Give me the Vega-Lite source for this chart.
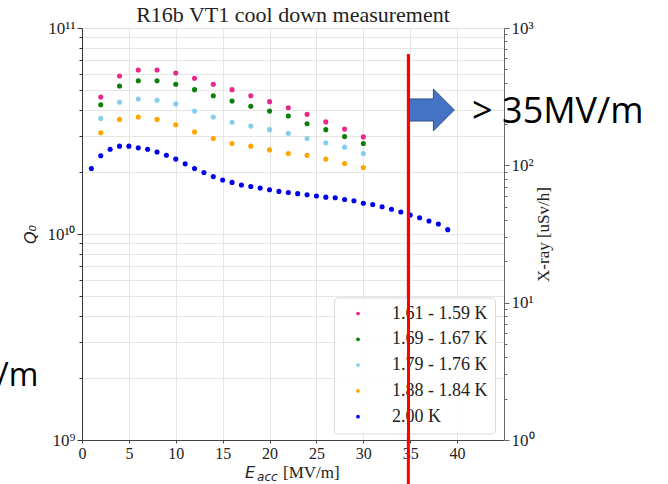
{
  "$schema": "https://vega.github.io/schema/vega-lite/v6.json",
  "width": 422,
  "height": 412,
  "autosize": "none",
  "padding": {"left": 82, "top": 28, "right": 164, "bottom": 44},
  "background": "white",
  "title": {"text": "R16b VT1 cool down measurement", "font": "Liberation Serif", "fontSize": 22, "fontWeight": "normal", "color": "#222", "offset": -8, "anchor": "middle", "frame": "group"},
  "config": {
    "view": {"stroke": null},
    "axis": {"labelFont": "Liberation Serif", "titleFont": "Liberation Serif", "labelColor": "#222", "titleColor": "#222", "domainColor": "#444", "tickColor": "#444", "gridColor": "#e6e6e6", "labelFlush": false, "labelOverlap": false}
  },
  "resolve": {"axis": {"x": "independent", "y": "independent"}},
  "layer": [
    {
      "data": {"values": [
        {"E": 2, "Q": 4.62e10, "T": "1.61 - 1.59 K"},
        {"E": 4, "Q": 5.85e10, "T": "1.61 - 1.59 K"},
        {"E": 6, "Q": 6.25e10, "T": "1.61 - 1.59 K"},
        {"E": 8, "Q": 6.25e10, "T": "1.61 - 1.59 K"},
        {"E": 10, "Q": 6.05e10, "T": "1.61 - 1.59 K"},
        {"E": 12, "Q": 5.70e10, "T": "1.61 - 1.59 K"},
        {"E": 14, "Q": 5.33e10, "T": "1.61 - 1.59 K"},
        {"E": 16, "Q": 5.02e10, "T": "1.61 - 1.59 K"},
        {"E": 18, "Q": 4.69e10, "T": "1.61 - 1.59 K"},
        {"E": 20, "Q": 4.39e10, "T": "1.61 - 1.59 K"},
        {"E": 22, "Q": 4.10e10, "T": "1.61 - 1.59 K"},
        {"E": 24, "Q": 3.81e10, "T": "1.61 - 1.59 K"},
        {"E": 26, "Q": 3.50e10, "T": "1.61 - 1.59 K"},
        {"E": 28, "Q": 3.23e10, "T": "1.61 - 1.59 K"},
        {"E": 30, "Q": 2.96e10, "T": "1.61 - 1.59 K"},
        {"E": 2, "Q": 4.24e10, "T": "1.69 - 1.67 K"},
        {"E": 4, "Q": 5.23e10, "T": "1.69 - 1.67 K"},
        {"E": 6, "Q": 5.55e10, "T": "1.69 - 1.67 K"},
        {"E": 8, "Q": 5.55e10, "T": "1.69 - 1.67 K"},
        {"E": 10, "Q": 5.33e10, "T": "1.69 - 1.67 K"},
        {"E": 12, "Q": 5.02e10, "T": "1.69 - 1.67 K"},
        {"E": 14, "Q": 4.69e10, "T": "1.69 - 1.67 K"},
        {"E": 16, "Q": 4.42e10, "T": "1.69 - 1.67 K"},
        {"E": 18, "Q": 4.17e10, "T": "1.69 - 1.67 K"},
        {"E": 20, "Q": 3.95e10, "T": "1.69 - 1.67 K"},
        {"E": 22, "Q": 3.74e10, "T": "1.69 - 1.67 K"},
        {"E": 24, "Q": 3.43e10, "T": "1.69 - 1.67 K"},
        {"E": 26, "Q": 3.21e10, "T": "1.69 - 1.67 K"},
        {"E": 28, "Q": 2.97e10, "T": "1.69 - 1.67 K"},
        {"E": 30, "Q": 2.75e10, "T": "1.69 - 1.67 K"},
        {"E": 2, "Q": 3.64e10, "T": "1.79 - 1.76 K"},
        {"E": 4, "Q": 4.36e10, "T": "1.79 - 1.76 K"},
        {"E": 6, "Q": 4.52e10, "T": "1.79 - 1.76 K"},
        {"E": 8, "Q": 4.46e10, "T": "1.79 - 1.76 K"},
        {"E": 10, "Q": 4.28e10, "T": "1.79 - 1.76 K"},
        {"E": 12, "Q": 3.95e10, "T": "1.79 - 1.76 K"},
        {"E": 14, "Q": 3.70e10, "T": "1.79 - 1.76 K"},
        {"E": 16, "Q": 3.49e10, "T": "1.79 - 1.76 K"},
        {"E": 18, "Q": 3.34e10, "T": "1.79 - 1.76 K"},
        {"E": 20, "Q": 3.21e10, "T": "1.79 - 1.76 K"},
        {"E": 22, "Q": 3.08e10, "T": "1.79 - 1.76 K"},
        {"E": 24, "Q": 2.91e10, "T": "1.79 - 1.76 K"},
        {"E": 26, "Q": 2.77e10, "T": "1.79 - 1.76 K"},
        {"E": 28, "Q": 2.64e10, "T": "1.79 - 1.76 K"},
        {"E": 30, "Q": 2.46e10, "T": "1.79 - 1.76 K"},
        {"E": 2, "Q": 3.10e10, "T": "1.88 - 1.84 K"},
        {"E": 4, "Q": 3.60e10, "T": "1.88 - 1.84 K"},
        {"E": 6, "Q": 3.70e10, "T": "1.88 - 1.84 K"},
        {"E": 8, "Q": 3.60e10, "T": "1.88 - 1.84 K"},
        {"E": 10, "Q": 3.39e10, "T": "1.88 - 1.84 K"},
        {"E": 12, "Q": 3.13e10, "T": "1.88 - 1.84 K"},
        {"E": 14, "Q": 2.91e10, "T": "1.88 - 1.84 K"},
        {"E": 16, "Q": 2.75e10, "T": "1.88 - 1.84 K"},
        {"E": 18, "Q": 2.67e10, "T": "1.88 - 1.84 K"},
        {"E": 20, "Q": 2.56e10, "T": "1.88 - 1.84 K"},
        {"E": 22, "Q": 2.46e10, "T": "1.88 - 1.84 K"},
        {"E": 24, "Q": 2.41e10, "T": "1.88 - 1.84 K"},
        {"E": 26, "Q": 2.31e10, "T": "1.88 - 1.84 K"},
        {"E": 28, "Q": 2.20e10, "T": "1.88 - 1.84 K"},
        {"E": 30, "Q": 2.10e10, "T": "1.88 - 1.84 K"},
        {"E": 1, "Q": 2.08e10, "T": "2.00 K"},
        {"E": 2, "Q": 2.40e10, "T": "2.00 K"},
        {"E": 3, "Q": 2.58e10, "T": "2.00 K"},
        {"E": 4, "Q": 2.67e10, "T": "2.00 K"},
        {"E": 5, "Q": 2.67e10, "T": "2.00 K"},
        {"E": 6, "Q": 2.62e10, "T": "2.00 K"},
        {"E": 7, "Q": 2.58e10, "T": "2.00 K"},
        {"E": 8, "Q": 2.50e10, "T": "2.00 K"},
        {"E": 9, "Q": 2.41e10, "T": "2.00 K"},
        {"E": 10, "Q": 2.31e10, "T": "2.00 K"},
        {"E": 11, "Q": 2.19e10, "T": "2.00 K"},
        {"E": 12, "Q": 2.08e10, "T": "2.00 K"},
        {"E": 13, "Q": 1.99e10, "T": "2.00 K"},
        {"E": 14, "Q": 1.90e10, "T": "2.00 K"},
        {"E": 15, "Q": 1.83e10, "T": "2.00 K"},
        {"E": 16, "Q": 1.78e10, "T": "2.00 K"},
        {"E": 17, "Q": 1.73e10, "T": "2.00 K"},
        {"E": 18, "Q": 1.70e10, "T": "2.00 K"},
        {"E": 19, "Q": 1.67e10, "T": "2.00 K"},
        {"E": 20, "Q": 1.64e10, "T": "2.00 K"},
        {"E": 21, "Q": 1.61e10, "T": "2.00 K"},
        {"E": 22, "Q": 1.59e10, "T": "2.00 K"},
        {"E": 23, "Q": 1.57e10, "T": "2.00 K"},
        {"E": 24, "Q": 1.55e10, "T": "2.00 K"},
        {"E": 25, "Q": 1.53e10, "T": "2.00 K"},
        {"E": 26, "Q": 1.51e10, "T": "2.00 K"},
        {"E": 27, "Q": 1.50e10, "T": "2.00 K"},
        {"E": 28, "Q": 1.47e10, "T": "2.00 K"},
        {"E": 29, "Q": 1.45e10, "T": "2.00 K"},
        {"E": 30, "Q": 1.41e10, "T": "2.00 K"},
        {"E": 31, "Q": 1.39e10, "T": "2.00 K"},
        {"E": 32, "Q": 1.357e10, "T": "2.00 K"},
        {"E": 33, "Q": 1.318e10, "T": "2.00 K"},
        {"E": 34, "Q": 1.279e10, "T": "2.00 K"},
        {"E": 35, "Q": 1.237e10, "T": "2.00 K"},
        {"E": 36, "Q": 1.20e10, "T": "2.00 K"},
        {"E": 37, "Q": 1.157e10, "T": "2.00 K"},
        {"E": 38, "Q": 1.119e10, "T": "2.00 K"},
        {"E": 39, "Q": 1.05e10, "T": "2.00 K"}
      ]},
      "mark": {"type": "circle", "size": 26, "opacity": 1},
      "encoding": {
        "x": {"field": "E", "type": "quantitative", "scale": {"domain": [0, 45], "nice": false, "zero": false},
          "axis": {"orient": "bottom", "values": [0, 5, 10, 15, 20, 25, 30, 35, 40], "title": null, "grid": true, "labelFontSize": 16, "tickSize": 3, "labelPadding": 2, "domainColor": "#444"}},
        "y": {"field": "Q", "type": "quantitative", "scale": {"type": "log", "domain": [1e9, 1e11], "nice": false}, "axis": null},
        "color": {"field": "T", "type": "nominal",
          "scale": {"domain": ["1.61 - 1.59 K", "1.69 - 1.67 K", "1.79 - 1.76 K", "1.88 - 1.84 K", "2.00 K"], "range": ["#e8288a", "#0a7f0a", "#87ceeb", "#ffa500", "#0000ee"]},
          "legend": {"title": null, "orient": "none", "legendX": 252, "legendY": 269.5, "padding": 7, "labelFont": "Liberation Serif", "labelFontSize": 18, "labelColor": "#222", "symbolType": "circle", "symbolSize": 14, "symbolOffset": 8, "labelOffset": 25, "rowPadding": 7.8, "strokeColor": "#d9d9d9", "fillColor": "rgba(255,255,255,0.85)", "cornerRadius": 4, "symbolStrokeWidth": 0, "zindex": 0}}
      }
    },
    {
      "data": {"values": [{"E": 34.8, "Qtop": 7.48e10, "Qbottom": 5e8}]},
      "mark": {"type": "rule", "color": "#ff0000", "strokeWidth": 3},
      "encoding": {
        "x": {"field": "E", "type": "quantitative", "scale": {"domain": [0, 45], "nice": false, "zero": false},
          "axis": {"orient": "top", "values": [34.8], "labels": false, "ticks": false, "domain": false, "title": null, "grid": true, "gridColor": "#ff0000", "gridWidth": 3, "gridDash": [385, 1000], "zindex": 1, "minExtent": 0, "maxExtent": 0, "offset": 0}},
        "y": {"field": "Qtop", "type": "quantitative", "scale": {"type": "log", "domain": [1e9, 1e11], "nice": false}, "axis": null},
        "y2": {"field": "Qbottom"}
      }
    },
    {
      "data": {"values": [{"E": 37.25, "Q": 4.0e10}]},
      "mark": {"type": "point", "shape": "M-1,-0.48L0.09,-0.48L0.09,-0.91L1,0L0.09,0.91L0.09,0.48L-1,0.48Z", "size": 2116, "filled": true, "fill": "#4472C4", "stroke": "#2F528F", "strokeWidth": 1, "opacity": 1},
      "encoding": {
        "x": {"field": "E", "type": "quantitative", "scale": {"domain": [0, 45], "nice": false, "zero": false}, "axis": null},
        "y": {"field": "Q", "type": "quantitative", "scale": {"type": "log", "domain": [1e9, 1e11], "nice": false}, "axis": null}
      }
    },
    {
      "data": {"values": [{"E": 41.6, "Q": 3.46e10, "label": "> 35MV/m"}]},
      "mark": {"type": "text", "align": "left", "baseline": "alphabetic", "font": "Open Sans", "fontSize": 36, "color": "#000"},
      "encoding": {
        "x": {"field": "E", "type": "quantitative", "scale": {"domain": [0, 45], "nice": false, "zero": false}, "axis": null},
        "y": {"field": "Q", "type": "quantitative", "scale": {"type": "log", "domain": [1e9, 1e11], "nice": false}, "axis": null},
        "text": {"field": "label"}
      }
    },
    {
      "data": {"values": [{"E": -4.66, "Q": 1.834e9, "label": "< 35MV/m"}]},
      "mark": {"type": "text", "align": "right", "baseline": "alphabetic", "font": "Open Sans", "fontSize": 32, "color": "#000"},
      "encoding": {
        "x": {"field": "E", "type": "quantitative", "scale": {"domain": [0, 45], "nice": false, "zero": false}, "axis": null},
        "y": {"field": "Q", "type": "quantitative", "scale": {"type": "log", "domain": [1e9, 1e11], "nice": false}, "axis": null},
        "text": {"field": "label"}
      }
    },
    {
      "data": {"values": [{"E": 17.39, "Q": 6.54e8, "label": "E"}]},
      "mark": {"type": "text", "align": "left", "baseline": "alphabetic", "font": "DejaVu Sans", "fontStyle": "italic", "fontSize": 16, "color": "#222"},
      "encoding": {
        "x": {"field": "E", "type": "quantitative", "scale": {"domain": [0, 45], "nice": false, "zero": false}, "axis": null},
        "y": {"field": "Q", "type": "quantitative", "scale": {"type": "log", "domain": [1e9, 1e11], "nice": false},
          "axis": {"orient": "right",
            "values": [1e9, 1.5874e9, 2.0801e9, 2.5198e9, 2.924e9, 3.3019e9, 3.6593e9, 4e9, 4.3267e9, 4.6416e9, 7.3681e9, 9.6549e9, 1.1696e10, 1.3572e10, 1.5326e10, 1.6985e10, 1.8566e10, 2.0083e10, 2.1544e10, 3.4199e10, 4.4814e10, 5.4287e10, 6.2995e10, 7.1136e10, 7.8836e10, 8.6177e10, 9.3215e10, 1e11],
            "labelExpr": "abs(1.5*(log(datum.value)/LN10 - 9) - round(1.5*(log(datum.value)/LN10 - 9))) > 0.01 ? '' : round(1.5*(log(datum.value)/LN10 - 9)) == 0 ? '10⁰' : round(1.5*(log(datum.value)/LN10 - 9)) == 1 ? '10¹' : round(1.5*(log(datum.value)/LN10 - 9)) == 2 ? '10²' : '10³'",
            "tickSize": {"condition": {"test": "abs(1.5*(log(datum.value)/LN10 - 9) - round(1.5*(log(datum.value)/LN10 - 9))) < 0.01", "value": 5}, "value": 3},
            "title": "X-ray [uSv/h]", "titleAngle": 270, "titleFontSize": 17, "titleFontWeight": "normal", "titlePadding": 18,
            "labelFontSize": 17, "labelPadding": 2, "grid": false, "domainColor": "#666", "tickColor": "#666"}},
        "text": {"field": "label"}
      }
    },
    {
      "data": {"values": [{"E": 18.67, "Q": 6.3e8, "label": "acc"}]},
      "mark": {"type": "text", "align": "left", "baseline": "alphabetic", "font": "DejaVu Sans", "fontStyle": "italic", "fontSize": 12, "color": "#222"},
      "encoding": {
        "x": {"field": "E", "type": "quantitative", "scale": {"domain": [0, 45], "nice": false, "zero": false}, "axis": null},
        "y": {"field": "Q", "type": "quantitative", "scale": {"type": "log", "domain": [1e9, 1e11], "nice": false}, "axis": null},
        "text": {"field": "label"}
      }
    },
    {
      "data": {"values": [{"E": 21.44, "Q": 6.54e8, "label": "[MV/m]"}]},
      "mark": {"type": "text", "align": "left", "baseline": "alphabetic", "font": "Liberation Serif", "fontSize": 17, "color": "#222"},
      "encoding": {
        "x": {"field": "E", "type": "quantitative", "scale": {"domain": [0, 45], "nice": false, "zero": false}, "axis": null},
        "y": {"field": "Q", "type": "quantitative", "scale": {"type": "log", "domain": [1e9, 1e11], "nice": false},
          "axis": {"orient": "left",
            "values": [1e9, 2e9, 3e9, 4e9, 5e9, 6e9, 7e9, 8e9, 9e9, 1e10, 2e10, 3e10, 4e10, 5e10, 6e10, 7e10, 8e10, 9e10, 1e11],
            "labelExpr": "datum.value == 1e9 ? '10⁹' : datum.value == 1e10 ? '10¹⁰' : datum.value == 1e11 ? '10¹¹' : ''",
            "tickSize": {"condition": {"test": "datum.value == 1e9 || datum.value == 1e10 || datum.value == 1e11", "value": 5}, "value": 3},
            "title": "Q₀", "titleFont": "DejaVu Sans", "titleFontStyle": "italic", "titleFontWeight": "normal", "titleFontSize": 16, "titlePadding": 8,
            "labelFontSize": 17, "labelPadding": 2, "grid": true, "domainColor": "#333", "tickColor": "#333"}},
        "text": {"field": "label"}
      }
    }
  ]
}
